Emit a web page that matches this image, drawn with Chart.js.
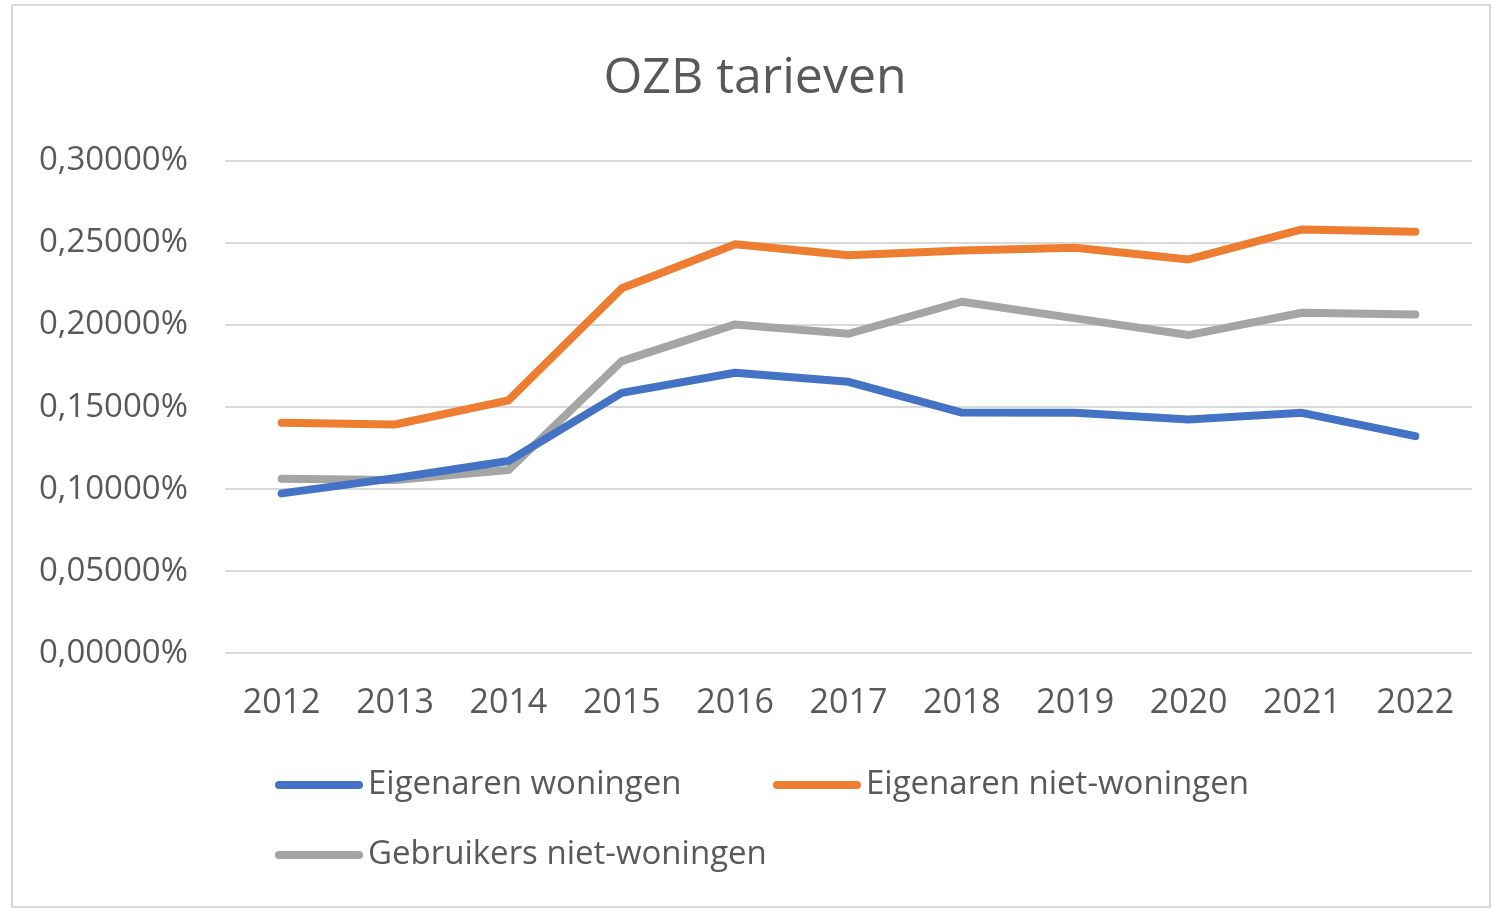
<!DOCTYPE html>
<html>
<head>
<meta charset="utf-8">
<script src="https://cdn.jsdelivr.net/npm/chart.js@4/dist/chart.umd.min.js"></script>
<style>
  html, body { margin: 0; padding: 0; background: #ffffff; }
  #wrap { width: 1496px; height: 909px; position: relative; }
</style>
</head>
<body>
<div id="wrap"><canvas id="c" width="1496" height="909"></canvas></div>
<script>
const years = ['2012','2013','2014','2015','2016','2017','2018','2019','2020','2021','2022'];
const eigenarenWoningen = [0.0974, 0.1067, 0.1171, 0.1587, 0.1709, 0.1654, 0.1467, 0.1466, 0.1425, 0.1465, 0.1323];
const eigenarenNietWoningen = [0.1404, 0.1394, 0.1541, 0.2224, 0.2492, 0.2425, 0.2455, 0.2471, 0.2400, 0.2583, 0.2569];
const gebruikersNietWoningen = [0.1063, 0.1055, 0.1116, 0.1780, 0.2004, 0.1947, 0.2142, 0.2041, 0.1939, 0.2075, 0.2065];
const seriesLabels = ['Eigenaren woningen', 'Eigenaren niet-woningen', 'Gebruikers niet-woningen'];
const yTicks = [0, 0.05, 0.10, 0.15, 0.20, 0.25, 0.30];

const FONT = "'Open Sans', 'Noto Sans', sans-serif";
const TEXT = '#595959';
const colors = ['#4472C4', '#ED7D31', '#A5A5A5'];

const frameAndLegend = {
  id: 'frameAndLegend',
  afterDraw(chart) {
    const ctx = chart.ctx;
    ctx.save();
    ctx.strokeStyle = '#d9d9d9';
    ctx.lineWidth = 2;
    ctx.strokeRect(12, 5, 1478, 902);
    const slots = [[275, 785], [773, 785], [275, 855]];
    chart.data.datasets.forEach((ds, i) => {
      const [x, y] = slots[i];
      ctx.strokeStyle = ds.borderColor;
      ctx.lineWidth = 8;
      ctx.lineCap = 'round';
      ctx.beginPath();
      ctx.moveTo(x + 4, y);
      ctx.lineTo(x + 84, y);
      ctx.stroke();
      ctx.fillStyle = TEXT;
      ctx.font = "33px " + FONT;
      ctx.textBaseline = 'middle';
      ctx.textAlign = 'left';
      ctx.fillText(ds.label, x + 93, y);
    });
    ctx.restore();
  }
};

const values = [eigenarenWoningen, eigenarenNietWoningen, gebruikersNietWoningen];
new Chart(document.getElementById('c'), {
  type: 'line',
  data: {
    labels: years,
    datasets: values.map((v, i) => ({
      label: seriesLabels[i],
      data: v,
      borderColor: colors[i],
      backgroundColor: colors[i],
      borderWidth: 8,
      pointRadius: 0,
      tension: 0,
      borderCapStyle: 'round',
      borderJoinStyle: 'round',
      fill: false
    }))
  },
  options: {
    responsive: false,
    animation: false,
    layout: { padding: { left: 38, right: 24, top: 31, bottom: 155 } },
    plugins: {
      legend: { display: false },
      tooltip: { enabled: false },
      title: {
        display: true,
        text: 'OZB tarieven',
        color: TEXT,
        font: { family: FONT, size: 50, weight: 'normal' },
        padding: { top: 18, bottom: 52 }
      }
    },
    scales: {
      x: {
        offset: true,
        grid: { display: false, drawTicks: false },
        border: { display: false },
        ticks: { color: TEXT, font: { family: FONT, size: 34 }, padding: 30, maxRotation: 0 }
      },
      y: {
        min: 0,
        max: 0.30,
        afterBuildTicks(scale) { scale.ticks = yTicks.map(v => ({ value: v })); },
        afterFit(scale) { scale.width = 225 - 38; },
        grid: { color: '#d9d9d9', lineWidth: 2, drawTicks: false },
        border: { display: false },
        ticks: {
          color: TEXT,
          font: { family: FONT, size: 33 },
          padding: 37,
          callback: v => v.toFixed(5).replace('.', ',') + '%'
        }
      }
    }
  },
  plugins: [frameAndLegend]
});
</script>
</body>
</html>
